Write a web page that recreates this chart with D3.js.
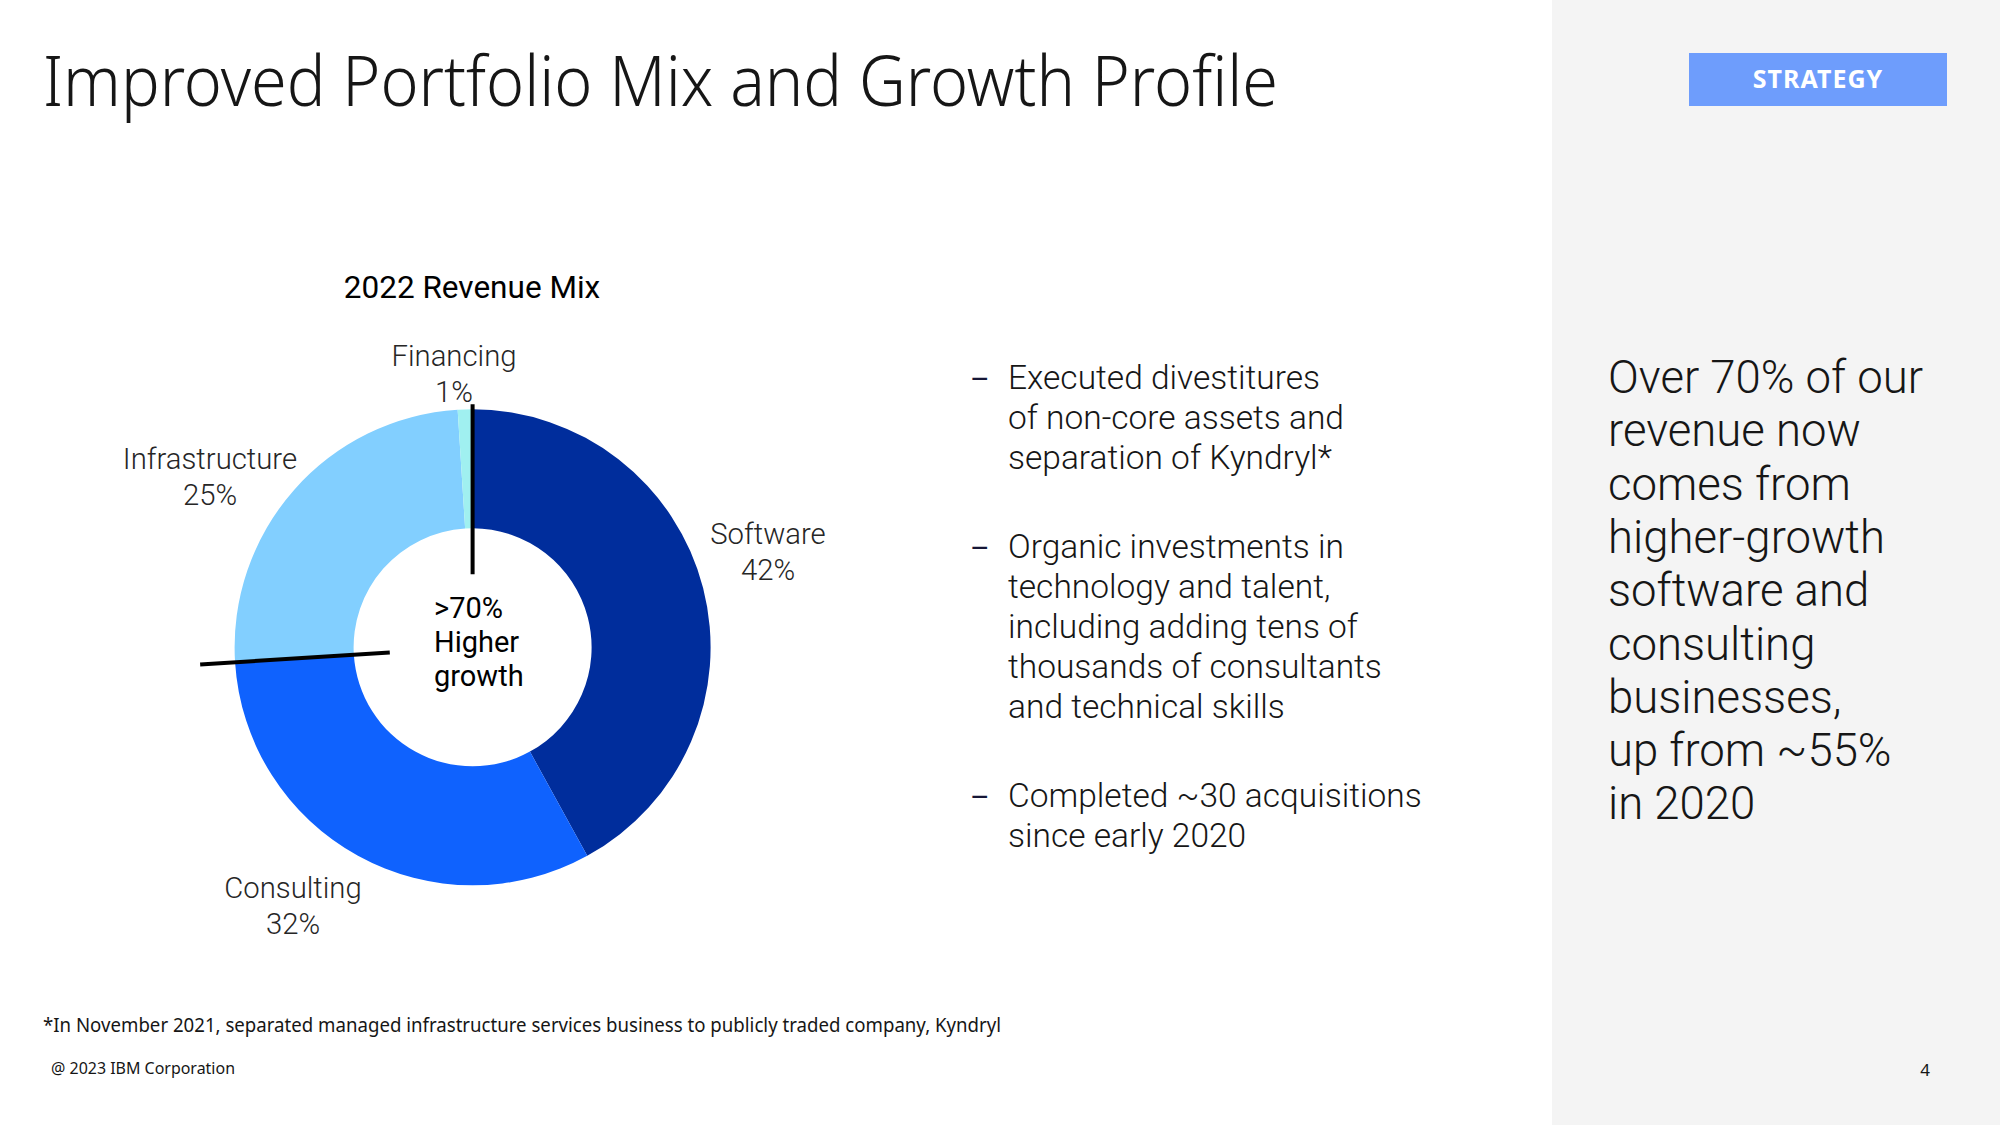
<!DOCTYPE html>
<html><head><meta charset="utf-8">
<script src="https://cdn.jsdelivr.net/npm/d3@7/dist/d3.min.js"></script>
<style>
html,body{margin:0;padding:0;background:#fff;}
svg{display:block;}
</style></head>
<body>
<script>
// ---- data ----
const categories = ["Software", "Consulting", "Infrastructure", "Financing"];
const shares = [42, 32, 25, 1];
const sliceColors = ["#002d9c", "#0f62fe", "#82cfff", "#a0f0f0"];
const higherGrowth = ["Software", "Consulting"];
const titleText = "Improved Portfolio Mix and Growth Profile";
const chartTitle = "2022 Revenue Mix";
const centerLines = [">70%", "Higher", "growth"];
const bullets = [
  ["Executed divestitures", "of non-core assets and", "separation of Kyndryl*"],
  ["Organic investments in", "technology and talent,", "including adding tens of", "thousands of consultants", "and technical skills"],
  ["Completed ~30 acquisitions", "since early 2020"]
];
const sideLines = ["Over 70% of our", "revenue now", "comes from", "higher-growth", "software and", "consulting", "businesses,", "up from ~55%", "in 2020"];
const footnote = "*In November 2021, separated managed infrastructure services business to publicly traded company, Kyndryl";
const copyright = "@ 2023 IBM Corporation";
const pageNum = "4";
const tag = "STRATEGY";

const W = 2000, H = 1125;
const svg = d3.select("body").append("svg").attr("width", W).attr("height", H);
const FONT = "'Noto Sans', 'Open Sans', sans-serif";
const BODY = "Roboto, 'Noto Sans', sans-serif";

svg.append("rect").attr("width", W).attr("height", H).attr("fill", "#ffffff");
svg.append("rect").attr("x", 1552).attr("y", 0).attr("width", W - 1552).attr("height", H).attr("fill", "#f4f4f4");

// title
svg.append("text").attr("x", 43).attr("y", 106).text(titleText)
  .attr("font-family", FONT).attr("font-weight", 300).attr("font-size", 70).attr("fill", "#161616")
  .attr("textLength", 1235).attr("lengthAdjust", "spacingAndGlyphs");

// tag
svg.append("rect").attr("x", 1689).attr("y", 53).attr("width", 258).attr("height", 53).attr("fill", "#6e9dfc");
svg.append("text").attr("x", 1818).attr("y", 88).attr("text-anchor", "middle").text(tag)
  .attr("font-family", FONT).attr("font-weight", 700).attr("font-size", 25).attr("fill", "#ffffff")
  .attr("letter-spacing", 1);

// donut
const cx = 472.6, cy = 647.3, R = 238, r = 119;
const pie = d3.pie().sort(null).value(d => d.v);
const data = categories.map((c, i) => ({c, v: shares[i], col: sliceColors[i]}));
const arcs = pie(data);
const arc = d3.arc().innerRadius(r).outerRadius(R);
const g = svg.append("g").attr("transform", `translate(${cx},${cy})`);
g.selectAll("path.slice").data(arcs).join("path").attr("class", "slice")
  .attr("d", arc).attr("fill", d => d.data.col);

// divider lines marking the higher-growth group
const hgArcs = arcs.filter(a => higherGrowth.includes(a.data.c));
const startA = d3.min(hgArcs, a => a.startAngle);
const endA = d3.max(hgArcs, a => a.endAngle);
const dividers = [{a: startA, r0: 73, r1: 243}, {a: endA, r0: 83, r1: 273}];
g.selectAll("line.div").data(dividers).join("line").attr("class", "div")
  .attr("x1", d => d.r0 * Math.sin(d.a)).attr("y1", d => -d.r0 * Math.cos(d.a))
  .attr("x2", d => d.r1 * Math.sin(d.a)).attr("y2", d => -d.r1 * Math.cos(d.a))
  .attr("stroke", "#000").attr("stroke-width", 4);

// slice labels
const labelPos = {
  "Software": [768, 534],
  "Consulting": [293, 888],
  "Infrastructure": [210, 459],
  "Financing": [454, 356]
};
arcs.forEach(a => {
  const p = labelPos[a.data.c];
  const t = svg.append("text").attr("text-anchor", "middle").attr("font-family", BODY)
    .attr("font-weight", 300).attr("font-size", 29.3).attr("fill", "#262626");
  t.append("tspan").attr("x", p[0]).attr("y", p[1] + 10).text(a.data.c);
  t.append("tspan").attr("x", p[0]).attr("y", p[1] + 46).text(a.data.v + "%");
});

// chart title
svg.append("text").attr("x", 472).attr("y", 298).attr("text-anchor", "middle").text(chartTitle)
  .attr("font-family", BODY).attr("font-size", 31.5).attr("fill", "#000");

// center text
centerLines.forEach((s, i) => {
  svg.append("text").attr("x", 434).attr("y", 618 + i * 34).text(s)
    .attr("font-family", BODY).attr("font-size", 29).attr("fill", "#000");
});

// bullets
const bulletStarts = [389, 558, 807];
bullets.forEach((lines, bi) => {
  svg.append("text").attr("x", 970).attr("y", bulletStarts[bi]).text("–")
    .attr("font-family", BODY).attr("font-size", 30).attr("fill", "#161636");
  lines.forEach((s, li) => {
    svg.append("text").attr("x", 1008).attr("y", bulletStarts[bi] + li * 40).text(s)
      .attr("font-family", BODY).attr("font-weight", 300).attr("font-size", 33.5).attr("fill", "#161616");
  });
});

// side text
sideLines.forEach((s, i) => {
  svg.append("text").attr("x", 1608).attr("y", 393 + i * 53.3).text(s)
    .attr("font-family", BODY).attr("font-weight", 300).attr("font-size", 45.5).attr("fill", "#161616");
});

// footnote
svg.append("text").attr("x", 43).attr("y", 1032).text(footnote)
  .attr("font-family", FONT).attr("font-size", 19).attr("fill", "#161616")
  .attr("textLength", 958).attr("lengthAdjust", "spacingAndGlyphs");
svg.append("text").attr("x", 51).attr("y", 1074).text(copyright)
  .attr("font-family", FONT).attr("font-size", 16).attr("fill", "#161616")
  .attr("textLength", 184).attr("lengthAdjust", "spacingAndGlyphs");
svg.append("text").attr("x", 1925).attr("y", 1076).attr("text-anchor", "middle").text(pageNum)
  .attr("font-family", FONT).attr("font-size", 17).attr("fill", "#161616");
</script>
</body></html>
